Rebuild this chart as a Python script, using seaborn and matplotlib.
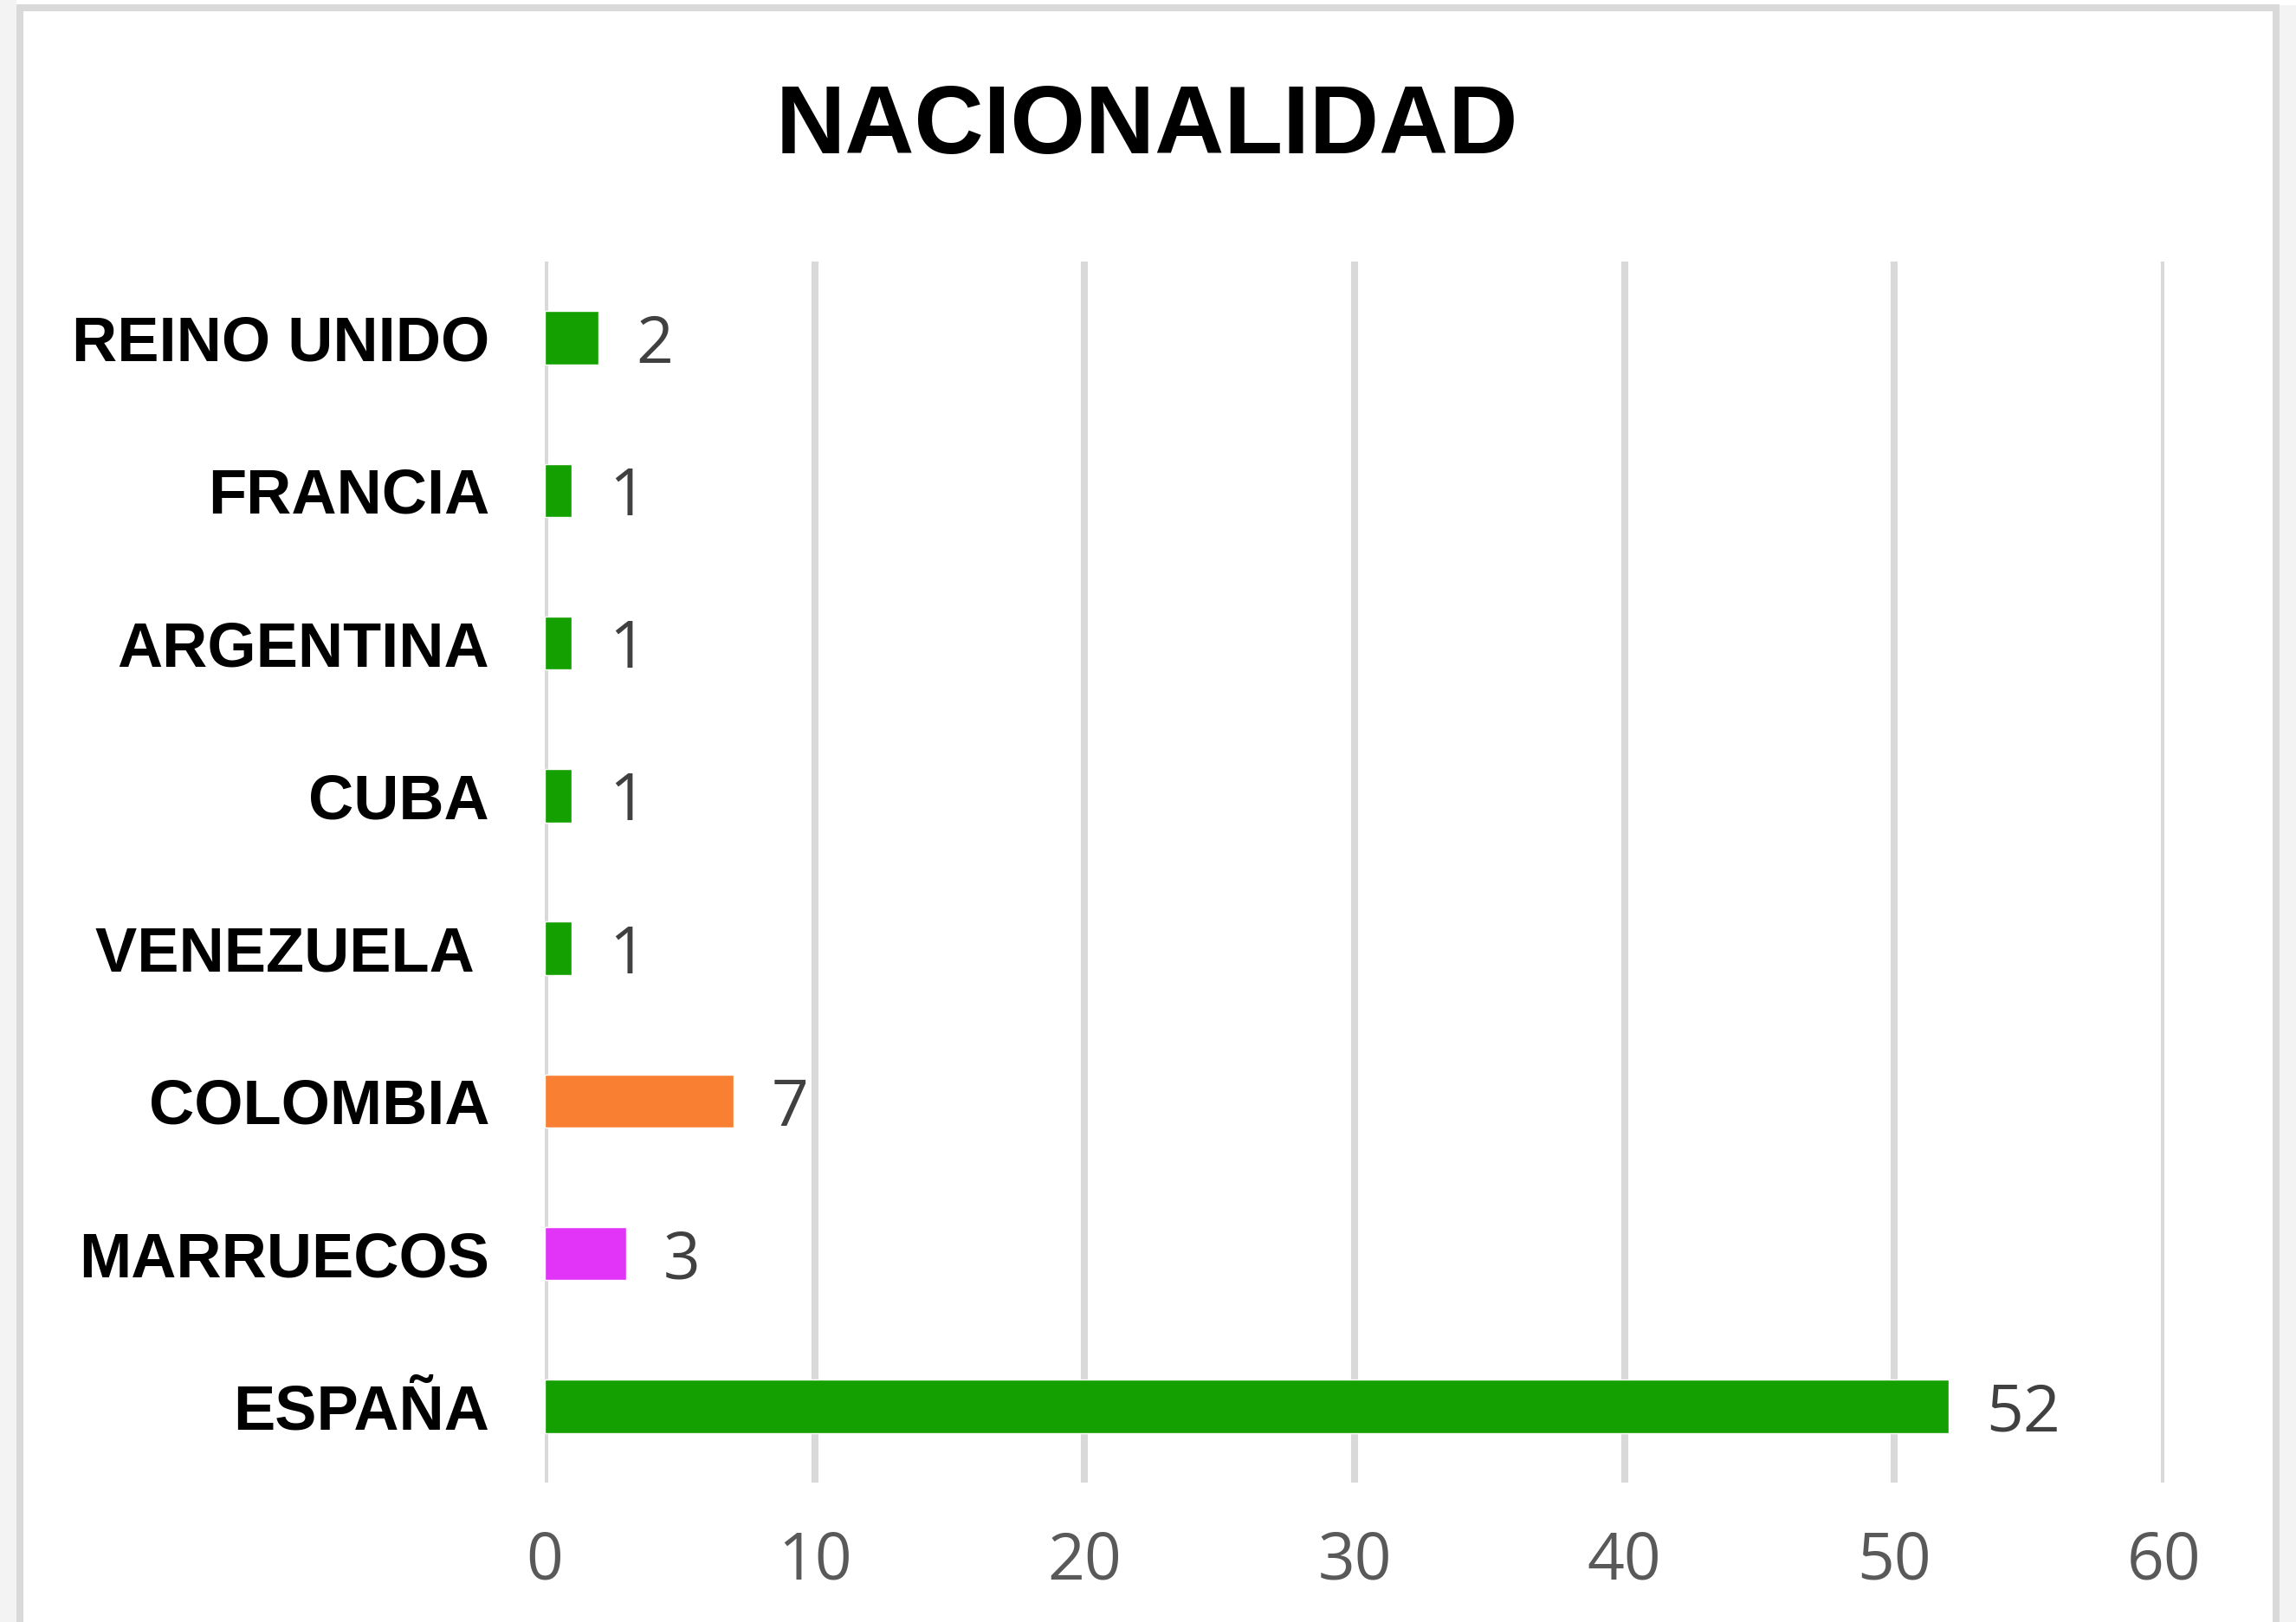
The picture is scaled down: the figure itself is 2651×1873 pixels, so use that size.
import matplotlib
matplotlib.use("Agg")
import matplotlib.pyplot as plt
import seaborn as sns
import pandas as pd
from matplotlib.patches import Rectangle

# ---- data ----
categories = ["REINO UNIDO", "FRANCIA", "ARGENTINA", "CUBA", "VENEZUELA ",
              "COLOMBIA", "MARRUECOS", "ESPAÑA"]
values = [2, 1, 1, 1, 1, 7, 3, 52]
bar_colors = ["#14A000", "#14A000", "#14A000", "#14A000", "#14A000",
              "#F97F33", "#E234F8", "#14A000"]
x_ticks = [0, 10, 20, 30, 40, 50, 60]
title = "NACIONALIDAD"

df = pd.DataFrame({"pais": categories, "n": values})

sns.set_theme(style="white")
plt.rcParams["font.family"] = ["Liberation Sans", "DejaVu Sans"]

W, H = 2651, 1873
fig = plt.figure(figsize=(W / 100, H / 100), dpi=100, facecolor="white")

# frame decoration (pixel -> figure fraction)
def rect(x0, y0, x1, y1, color):
    fig.patches.append(Rectangle((x0 / W, 1 - y1 / H), (x1 - x0) / W, (y1 - y0) / H,
                                 transform=fig.transFigure, facecolor=color,
                                 edgecolor="none", zorder=0))

rect(0, 0, 19, H, "#F3F3F3")
rect(2632, 6, W, H, "#F3F3F3")
rect(19, 5, 27, H, "#D9D9D9")
rect(19, 5, 2632, 13, "#D9D9D9")
rect(2624, 5, 2632, H, "#D9D9D9")

ax = fig.add_axes([629 / W, 1 - 1712 / H, (2499 - 629) / W, (1712 - 302) / H])
ax.set_facecolor("none")

sns.barplot(data=df, x="n", y="pais", hue="pais", palette=bar_colors,
            order=categories, hue_order=categories, width=0.35,
            legend=False, saturation=1, ax=ax)

for cont in ax.containers:
    texts = ax.bar_label(cont, padding=31, fontsize=54, color="#404040",
                         family=["Open Sans", "DejaVu Sans"])
    for t in texts:
        t.set_verticalalignment("center_baseline")

ax.set_xlim(0, 60)
ax.set_xticks(x_ticks)
ax.set_xticklabels([str(t) for t in x_ticks], fontsize=54, color="#595959",
                   family=["Open Sans", "DejaVu Sans"])
ax.tick_params(axis="x", length=0, pad=39)
ax.tick_params(axis="y", length=0, pad=46)
for lbl in ax.get_yticklabels():
    lbl.set_fontsize(52)
    lbl.set_fontweight("bold")
    lbl.set_color("black")
ax.set_xlabel("")
ax.set_ylabel("")
ax.grid(axis="x", color="#D9D9D9", linewidth=5.8)
ax.grid(axis="y", visible=False)
ax.set_axisbelow(True)
for s in ax.spines.values():
    s.set_visible(False)

fig.text(1324 / W, 1 - 177 / H, title, ha="center", va="baseline",
         fontsize=80, fontweight="bold", color="black")

fig.savefig("out.png", dpi=100, facecolor="white")
